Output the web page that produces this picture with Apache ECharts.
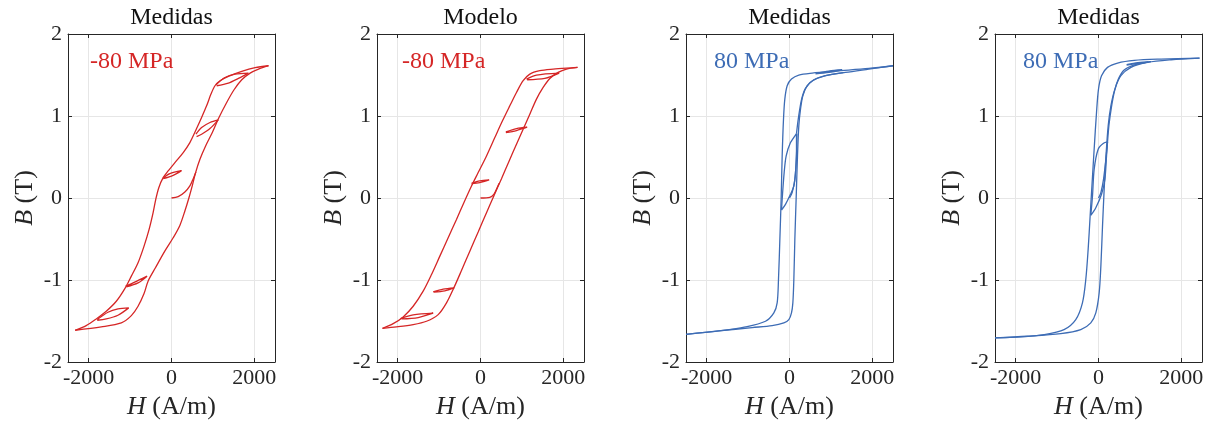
<!DOCTYPE html>
<html>
<head>
<meta charset="utf-8">
<script src="https://cdn.jsdelivr.net/npm/echarts@6/dist/echarts.min.js"></script>
<style>
  html, body { margin: 0; padding: 0; background: #ffffff; }
  #chart { width: 1214px; height: 426px; }
</style>
</head>
<body>
<div id="chart"></div>
<script>
// ---------- tick labels ----------
const xTicks = [-2000, 0, 2000];
const yTicks = [-2, -1, 0, 1, 2];

// ---------- Panel 1: Medidas, -80 MPa ----------
const p1Initial = [[0,0],[162,0.016],[323,0.073],[444,0.147],[525,0.236],[590,0.318]];
const p1Ascending = [[-2327,-1.613],[-1697,-1.572],[-1212,-1.523],[-970,-1.434],[-808,-1.320],[-663,-1.165],[-566,-1.014],[-388,-0.851],[-162,-0.648],[40,-0.485],[202,-0.334],[323,-0.159],[420,0],[501,0.147],[582,0.310],[687,0.473],[824,0.635],[986,0.798],[1147,0.982],[1333,1.165],[1511,1.320],[1697,1.442],[1899,1.523],[2101,1.572],[2343,1.613]];
const p1Descending = [[2343,1.613],[2020,1.589],[1697,1.544],[1374,1.483],[1172,1.430],[1050,1.369],[953,1.267],[848,1.124],[727,0.982],[606,0.847],[444,0.676],[283,0.554],[97,0.440],[-81,0.330],[-202,0.248],[-307,0.126],[-380,-0.016],[-444,-0.179],[-541,-0.383],[-663,-0.587],[-808,-0.790],[-970,-0.953],[-1131,-1.108],[-1333,-1.259],[-1576,-1.381],[-1818,-1.475],[-2060,-1.556],[-2327,-1.613]];
const p1LoopA = [[1075,1.381],[1293,1.470],[1535,1.511],[1858,1.523],[1616,1.458],[1374,1.401],[1091,1.369]];
const p1LoopB = [[590,0.778],[727,0.859],[929,0.921],[1131,0.953],[929,0.847],[727,0.778],[606,0.749]];
const p1LoopC = [[-202,0.244],[-40,0.297],[242,0.334],[40,0.277],[-202,0.236]];
const p1LoopD = [[-1107,-1.075],[-889,-1.026],[-590,-0.953],[-808,-1.035],[-1091,-1.083]];
const p1LoopE = [[-1794,-1.483],[-1535,-1.393],[-1293,-1.352],[-1034,-1.340],[-1293,-1.430],[-1576,-1.475],[-1794,-1.491]];

// ---------- Panel 2: Modelo, -80 MPa ----------
const p2Initial = [[0,0],[225,0.008],[322,0.045],[402,0.126],[451,0.179]];
const p2Ascending = [[-2367,-1.589],[-2029,-1.572],[-1626,-1.544],[-1304,-1.503],[-1022,-1.422],[-821,-1.279],[-644,-1.096],[-459,-0.884],[-258,-0.648],[-56,-0.415],[145,-0.179],[322,0.024],[507,0.236],[692,0.452],[869,0.656],[1030,0.839],[1191,1.022],[1352,1.206],[1513,1.348],[1674,1.458],[1876,1.532],[2077,1.572],[2343,1.593]];
const p2Descending = [[2343,1.593],[2077,1.585],[1755,1.572],[1433,1.552],[1191,1.511],[1030,1.430],[869,1.287],[708,1.124],[531,0.941],[346,0.737],[145,0.513],[-56,0.310],[-217,0.147],[-402,-0.057],[-580,-0.261],[-781,-0.485],[-982,-0.709],[-1183,-0.933],[-1385,-1.136],[-1626,-1.320],[-1868,-1.450],[-2109,-1.532],[-2367,-1.589]];
const p2LoopA = [[1111,1.450],[1352,1.499],[1900,1.523],[1554,1.458],[1127,1.442]];
const p2LoopB = [[612,0.807],[869,0.847],[1127,0.864],[869,0.823],[612,0.798]];
const p2LoopC = [[-217,0.179],[-16,0.208],[209,0.220],[-16,0.187],[-217,0.175]];
const p2LoopD = [[-1143,-1.145],[-902,-1.112],[-636,-1.096],[-861,-1.132],[-1127,-1.149]];
const p2LoopE = [[-1932,-1.470],[-1626,-1.426],[-1143,-1.405],[-1505,-1.458],[-1908,-1.475]];

// ---------- Panel 3: Medidas, 80 MPa ----------
const p3Initial = [[0,0],[64,0.065],[129,0.228],[169,0.513],[177,0.786]];
const p3Ascending = [[-2500,-1.662],[-1707,-1.621],[-902,-1.580],[-419,-1.556],[-137,-1.523],[-16,-1.483],[48,-1.401],[81,-1.279],[105,-0.994],[129,-0.505],[161,0],[193,0.513],[225,0.880],[266,1.083],[322,1.246],[427,1.369],[588,1.442],[869,1.491],[1352,1.532],[1916,1.572],[2500,1.613]];
const p3Descending = [[2500,1.613],[1916,1.580],[1111,1.548],[547,1.523],[225,1.499],[48,1.450],[-56,1.369],[-113,1.206],[-145,0.961],[-177,0.513],[-201,0],[-233,-0.505],[-266,-0.994],[-298,-1.279],[-378,-1.401],[-580,-1.503],[-1063,-1.572],[-1707,-1.621],[-2500,-1.662]];
const p3Minor = [[-193,-0.147],[-177,-0.016],[-129,0.310],[-80,0.513],[24,0.676],[169,0.786],[169,0.595],[145,0.310],[105,0.147],[24,0.045],[-97,-0.077],[-193,-0.147]];
const p3Rise = [[169,0.786],[200,0.92],[240,1.06],[300,1.22],[390,1.34],[560,1.43],[850,1.49],[1300,1.53]];
const p3Lens = [[628,1.519],[950,1.548],[1272,1.564],[950,1.532],[628,1.515]];

// ---------- Panel 4: Medidas, 80 MPa ----------
const p4Initial = [[0,0],[57,0.065],[121,0.228],[178,0.473],[218,0.684]];
const p4Ascending = [[-2500,-1.707],[-1721,-1.686],[-913,-1.654],[-428,-1.605],[-186,-1.523],[-65,-1.401],[16,-1.157],[57,-0.831],[97,-0.342],[137,0.106],[186,0.554],[234,0.880],[299,1.124],[396,1.328],[541,1.491],[784,1.593],[1188,1.654],[1753,1.686],[2440,1.707]];
const p4Descending = [[2440,1.707],[1511,1.694],[865,1.678],[461,1.646],[218,1.593],[73,1.491],[0,1.328],[-48,1.043],[-105,0.595],[-154,0.187],[-202,-0.220],[-250,-0.627],[-307,-0.994],[-388,-1.279],[-549,-1.483],[-832,-1.605],[-1317,-1.666],[-1883,-1.694],[-2500,-1.707]];
const p4Minor = [[-186,-0.212],[-145,0.024],[-105,0.350],[-8,0.595],[121,0.668],[218,0.684],[194,0.513],[154,0.228],[73,0.045],[-65,-0.118],[-186,-0.212]];
const p4Rise = [[218,0.684],[255,0.90],[310,1.10],[385,1.30],[480,1.45],[620,1.56],[850,1.62],[1200,1.66]];
const p4Lens = [[679,1.625],[950,1.650],[1269,1.662],[950,1.640],[679,1.620]];

// ---------- layout / style ----------
const FONT = '"Liberation Serif", "Times New Roman", serif';
const RED = '#D52626';
const BLUE = '#3D6CB5';
const AXIS = '#262626';
const GRIDC = '#E6E6E6';

const panels = [
  { title: 'Medidas', note: '-80 MPa', color: RED, lines: [p1Initial, p1Ascending, p1Descending, p1LoopA, p1LoopB, p1LoopC, p1LoopD, p1LoopE] },
  { title: 'Modelo',  note: '-80 MPa', color: RED, lines: [p2Initial, p2Ascending, p2Descending, p2LoopA, p2LoopB, p2LoopC, p2LoopD, p2LoopE] },
  { title: 'Medidas', note: '80 MPa',  color: BLUE, lines: [p3Initial, p3Ascending, p3Descending, p3Minor, p3Rise, p3Lens] },
  { title: 'Medidas', note: '80 MPa',  color: BLUE, lines: [p4Initial, p4Ascending, p4Descending, p4Minor, p4Rise, p4Lens] }
];
const lefts = [68, 377, 686, 995];
const noteX = [90, 402, 714, 1023];
const TOP = 34, W = 207, H = 328;

const grid = [], xAxis = [], yAxis = [], series = [], graphic = [];
const nameStyle = {
  fontFamily: FONT, fontSize: 26, color: AXIS,
  rich: { it: { fontFamily: FONT, fontSize: 26, fontStyle: 'italic', color: AXIS } }
};

panels.forEach((p, i) => {
  grid.push({ left: lefts[i], top: TOP, width: W, height: H, containLabel: false });
  const tickStyle = { color: AXIS, width: 1 };
  // bottom x
  xAxis.push({
    gridIndex: i, type: 'value', position: 'bottom', min: -2500, max: 2500,
    axisLine: { show: true, onZero: false, lineStyle: { color: AXIS, width: 1 } },
    axisTick: { show: true, inside: true, length: 4, customValues: xTicks, lineStyle: tickStyle },
    axisLabel: { show: true, customValues: xTicks, formatter: v => String(v), color: AXIS, fontFamily: FONT, fontSize: 22, margin: 5 },
    splitLine: { show: true, lineStyle: { color: GRIDC, width: 1 } },
    name: '{it|H} (A/m)', nameLocation: 'middle', nameGap: 32, nameTextStyle: nameStyle
  });
  // top x (box)
  xAxis.push({
    gridIndex: i, type: 'value', position: 'top', min: -2500, max: 2500,
    axisLine: { show: true, onZero: false, lineStyle: { color: AXIS, width: 1 } },
    axisTick: { show: true, inside: true, length: 4, customValues: xTicks, lineStyle: tickStyle },
    axisLabel: { show: false }, splitLine: { show: false }
  });
  // left y
  yAxis.push({
    gridIndex: i, type: 'value', position: 'left', min: -2, max: 2, interval: 1,
    axisLine: { show: true, onZero: false, lineStyle: { color: AXIS, width: 1 } },
    axisTick: { show: true, inside: true, length: 4, lineStyle: tickStyle },
    axisLabel: { show: true, formatter: v => String(v), color: AXIS, fontFamily: FONT, fontSize: 22, margin: 6 },
    splitLine: { show: true, lineStyle: { color: GRIDC, width: 1 } },
    name: '{it|B} (T)', nameLocation: 'middle', nameGap: 30, nameTextStyle: nameStyle
  });
  // right y (box)
  yAxis.push({
    gridIndex: i, type: 'value', position: 'right', min: -2, max: 2, interval: 1,
    axisLine: { show: true, onZero: false, lineStyle: { color: AXIS, width: 1 } },
    axisTick: { show: true, inside: true, length: 4, lineStyle: tickStyle },
    axisLabel: { show: false }, splitLine: { show: false }
  });
  p.lines.forEach(d => {
    series.push({
      type: 'line', xAxisIndex: 2 * i, yAxisIndex: 2 * i, data: d,
      showSymbol: false, symbol: 'none', smooth: 0.3, silent: true,
      lineStyle: { color: p.color, width: 1.3 }, clip: true, z: 3
    });
  });
  graphic.push({
    type: 'text', x: lefts[i] + W / 2, y: 18, silent: true,
    style: { text: p.title, fill: '#111111', font: '24px ' + FONT, align: 'center', verticalAlign: 'middle' }
  });
  graphic.push({
    type: 'text', x: noteX[i], y: 62, silent: true, z: 10,
    style: { text: p.note, fill: p.color, font: '24px ' + FONT, align: 'left', verticalAlign: 'middle' }
  });
});

const chart = echarts.init(document.getElementById('chart'), null, { renderer: 'canvas' });
chart.setOption({
  backgroundColor: '#ffffff',
  animation: false,
  grid, xAxis, yAxis, series, graphic
});
</script>
</body>
</html>
